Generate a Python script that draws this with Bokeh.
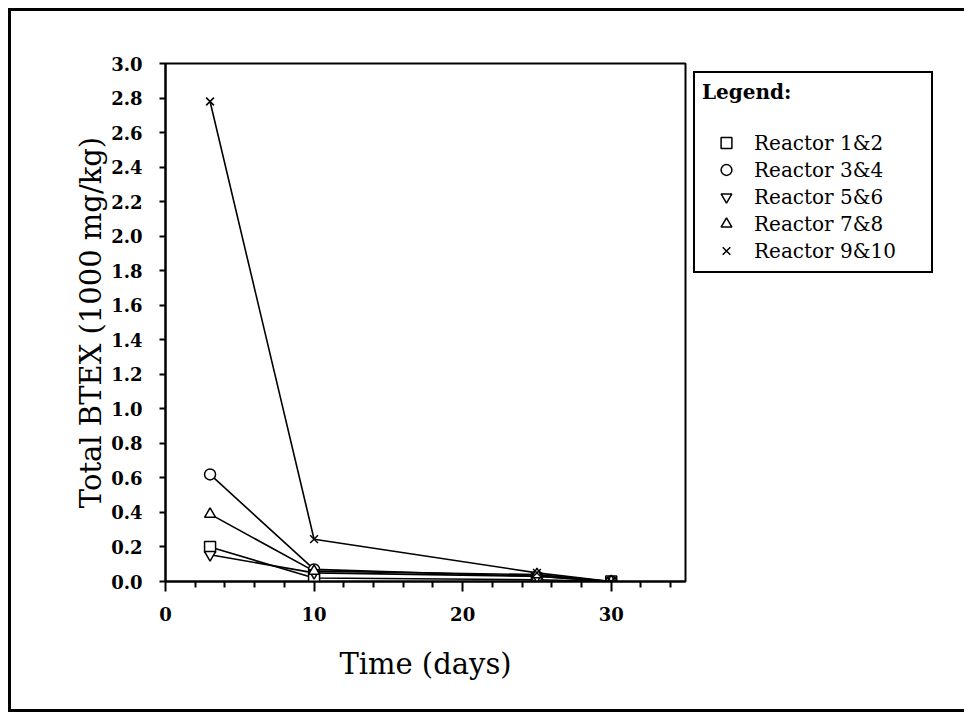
from bokeh.plotting import figure
from bokeh.models import (Legend, LegendItem, FixedTicker, PrintfTickFormatter, Range1d)
from bokeh.embed import file_html
from bokeh.resources import INLINE

# ---- data ----
days = [3, 10, 25, 30]
reactor_1_2 = [0.20, 0.02, 0.01, 0.0]
reactor_3_4 = [0.62, 0.07, 0.03, 0.0]
reactor_5_6 = [0.155, 0.05, 0.03, 0.0]
reactor_7_8 = [0.39, 0.06, 0.04, 0.0]
reactor_9_10 = [2.78, 0.245, 0.05, 0.0]
series_labels = ["Reactor 1&2", "Reactor 3&4", "Reactor 5&6", "Reactor 7&8", "Reactor 9&10"]
series_markers = ["square", "circle", "inverted_triangle", "triangle", "x"]
x_major_ticks = [0, 10, 20, 30]
x_minor_ticks = [2, 4, 6, 8, 12, 14, 16, 18, 22, 24, 26, 28, 32, 34]
y_ticks = [0.0, 0.2, 0.4, 0.6, 0.8, 1.0, 1.2, 1.4, 1.6, 1.8, 2.0, 2.2, 2.4, 2.6, 2.8, 3.0]

SERIF = "DejaVu Serif"

p = figure(frame_width=520, frame_height=518, output_backend="svg", toolbar_location=None,
           x_range=Range1d(0, 35), y_range=Range1d(0, 3.0),
           min_border_left=154, min_border_right=0, min_border_top=52, min_border_bottom=128,
           background_fill_color="white", border_fill_color="white")
p.styles = {"margin-left": "8px", "margin-top": "8px",
            "border-left": "3px solid black", "border-top": "3px solid black",
            "border-bottom": "3px solid black", "border-right": "0px none white",
            "clip-path": "inset(0px 6px 0px 0px)"}

p.xgrid.visible = False
p.ygrid.visible = False
p.outline_line_color = "black"
p.outline_line_width = 2

# x axis
p.xaxis.ticker = FixedTicker(ticks=x_major_ticks, minor_ticks=x_minor_ticks)
p.xaxis.axis_label = "Time (days)"
p.xaxis.axis_line_width = 2
p.xaxis.major_tick_in = 0
p.xaxis.major_tick_out = 10
p.xaxis.major_tick_line_width = 2
p.xaxis.minor_tick_in = 0
p.xaxis.minor_tick_out = 6
p.xaxis.minor_tick_line_width = 2
p.xaxis.major_label_standoff = 15
p.xaxis.axis_label_standoff = 23

# y axis
p.yaxis.ticker = FixedTicker(ticks=y_ticks, minor_ticks=[])
p.yaxis.formatter = PrintfTickFormatter(format="%.1f")
p.yaxis.axis_label = "Total BTEX (1000 mg/kg)"
p.yaxis.axis_line_width = 2
p.yaxis.major_tick_in = 0
p.yaxis.major_tick_out = 6
p.yaxis.major_tick_line_width = 2
p.yaxis.minor_tick_in = 0
p.yaxis.minor_tick_out = 0
p.yaxis.major_label_standoff = 17
p.yaxis.axis_label_standoff = 0

for ax in (p.xaxis, p.yaxis):
    ax.major_label_text_font = SERIF
    ax.major_label_text_font_size = "18px"
    ax.major_label_text_font_style = "bold"
    ax.major_label_text_color = "black"
    ax.axis_label_text_font = SERIF
    ax.axis_label_text_font_size = "29px"
    ax.axis_label_text_font_style = "normal"
    ax.axis_label_text_color = "black"
    ax.axis_line_color = "black"
    ax.major_tick_line_color = "black"
    ax.minor_tick_line_color = "black"

all_series = [reactor_1_2, reactor_3_4, reactor_5_6, reactor_7_8, reactor_9_10]
items = []
for vals in all_series:
    p.line(days, vals, line_color="black", line_width=1.6)
for vals, label, marker in zip(all_series, series_labels, series_markers):
    r = p.scatter(days, vals, marker=marker, size=11, fill_color="white",
                  line_color="black", line_width=1.5)
    items.append(LegendItem(label=label, renderers=[r]))

legend = Legend(items=items, title="Legend:", location="top_left",
                margin=8, padding=7, spacing=0,
                glyph_width=48, glyph_height=27, label_height=27, label_width=170,
                label_standoff=4, title_standoff=25,
                border_line_color="black", border_line_width=2, border_line_alpha=1,
                background_fill_color="white", background_fill_alpha=1,
                label_text_font=SERIF, label_text_font_size="20px",
                label_text_color="black",
                title_text_font=SERIF, title_text_font_size="20px",
                title_text_font_style="bold", title_text_color="black")
p.add_layout(legend, "right")

open("out.html", "w").write(file_html(p, INLINE))
